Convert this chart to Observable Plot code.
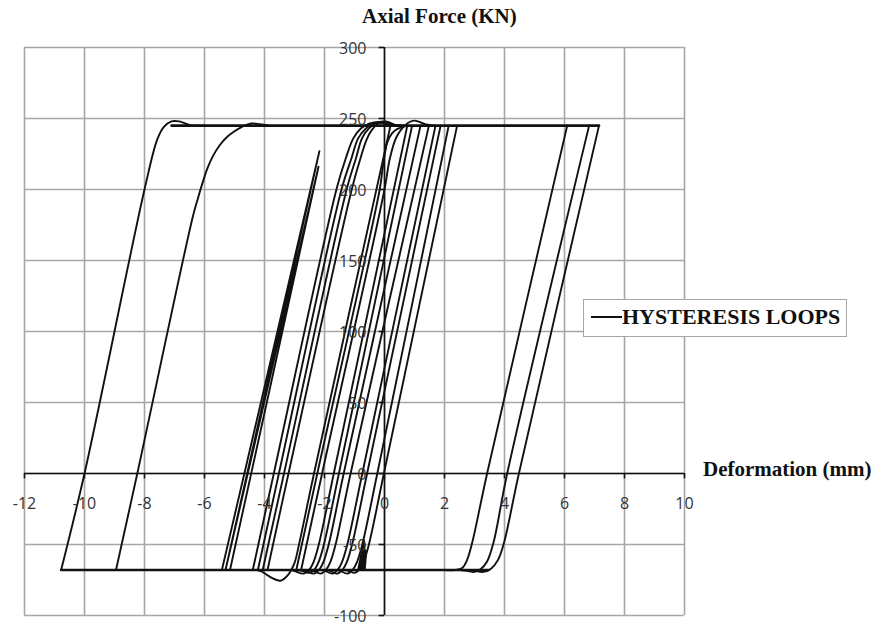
<!DOCTYPE html>
<html>
<head>
<meta charset="utf-8">
<script src="https://cdn.jsdelivr.net/npm/d3@7"></script>
<script src="https://cdn.jsdelivr.net/npm/@observablehq/plot@0.6"></script>
<style>
  html, body { margin: 0; padding: 0; background: #fff; }
  #wrap { position: relative; width: 881px; height: 626px; }
  .serif { font-family: "Liberation Serif", "Times New Roman", serif; font-weight: bold; color: #111; position: absolute; white-space: nowrap; }
  #legend { position: absolute; left: 583px; top: 299px; width: 262px; height: 36px; border: 1.5px solid #a6a6a6; background: #fff; }
  #legend .sample { position: absolute; left: 7px; top: 16px; width: 31px; height: 0; border-top: 2px solid #111; }
  #legend .lab { position: absolute; left: 38px; top: 6px; font-size: 22px; line-height: 22px; }
</style>
</head>
<body>
<div id="wrap"></div>
<script>
// ---- ticks ----
const xTicks = [-12, -10, -8, -6, -4, -2, 0, 2, 4, 6, 8, 10];
const yTicks = [-100, -50, 0, 50, 100, 150, 200, 250, 300];

// ---- plateaus (yield levels) ----
const plateauTop = [[-7.1, 245], [7.15, 245]];
const plateauBottom = [[-10.78, -68], [3.47, -68]];

// ---- outer loading branches (rounded top knee) ----
const outerUp1 = [[-10.78, -68], [-10.0, 0], [-8.0, 200], [-7.58, 235], [-7.36, 244], [-7.1, 248], [-6.85, 248], [-6.47, 245.3], [-6.0, 245]];
const outerUp2 = [[-8.95, -68], [-8.24, 0], [-6.4, 180], [-6.23, 193], [-6.06, 205], [-5.9, 215], [-5.72, 223.5], [-5.5, 231], [-5.25, 237], [-5.0, 241], [-4.72, 244.5], [-4.45, 246.5], [-4.15, 246], [-3.85, 245]];

// ---- outer unloading branches (sharp top, rounded bottom) ----
const outerDown1 = [[7.15, 245], [4.48, 0], [3.98, -49], [3.78, -61], [3.55, -67], [3.3, -69.3], [3.0, -68.5], [2.8, -68]];
const outerDown2 = [[6.82, 245], [4.09, 0], [3.63, -49], [3.42, -62], [3.2, -67.5], [3.0, -69.3], [2.75, -68.5], [2.5, -68]];
const outerDown3 = [[6.09, 245], [3.42, 0], [2.92, -49], [2.75, -61], [2.59, -66.5], [2.35, -68], [2.0, -68]];

// ---- elastic excursions (no yield) ----
const elasticBundle = [[-5.42, -68], [-2.17, 227], [-5.3, -68], [-2.2, 216], [-5.15, -68]];

// ---- inner loading branches ----
const innerUp1 = [[-4.39, -68], [-3.69, 0], [-1.59, 201], [-1.29, 222], [-1.04, 236], [-0.79, 243], [-0.49, 246.5], [-0.19, 247.5], [0.16, 245.5], [0.5, 245]];
const innerUp2 = [[-4.22, -68], [-3.52, 0], [-1.42, 201], [-1.1, 222], [-0.88, 236], [-0.62, 243], [-0.35, 246.5], [-0.1, 247], [0.2, 245.5], [0.5, 245]];
const innerUp3 = [[-4.06, -68], [-3.35, 0], [-1.25, 201], [-0.95, 222], [-0.75, 236], [-0.52, 243], [-0.3, 246.5], [-0.05, 248], [0.3, 245.5], [0.6, 245]];
const innerUp4 = [[-3.9, -68], [-3.2, 0], [-1.08, 201], [-0.8, 222], [-0.6, 235], [-0.42, 242], [-0.2, 246.5], [0.05, 248], [0.35, 245.5], [0.7, 245]];
const innerUp5 = [[-2.94, -68], [-2.24, 0], [-0.16, 200], [-0.06, 215], [0.09, 233], [0.25, 239.5], [0.42, 242.5], [0.76, 245]];
const innerUp6 = [[-2.78, -68], [-2.08, 0], [0.0, 200], [0.18, 222], [0.4, 237], [0.7, 245.5], [1.0, 248.5], [1.35, 246], [1.7, 245]];

// ---- inner unloading branches ----
const innerDown0 = [[0.2, 245], [-2.35, 0], [-2.85, -50], [-3.0, -63], [-3.2, -71], [-3.47, -75.5], [-3.8, -73], [-4.1, -69], [-4.25, -68]];
const innerDown1 = [[0.76, 245], [-1.69, 0], [-2.19, -50], [-2.36, -62], [-2.5, -67.5], [-2.7, -70.5], [-2.95, -69], [-3.1, -68]];
const innerDown2 = [[0.92, 245], [-1.52, 0], [-2.02, -50], [-2.19, -62], [-2.33, -67.5], [-2.52, -70], [-2.75, -68.5], [-2.9, -68]];
const innerDown3 = [[1.2, 245], [-1.36, 0], [-1.86, -50], [-2.03, -62], [-2.17, -67.5], [-2.36, -70.5], [-2.6, -68.5], [-2.75, -68]];
const innerDown4 = [[1.48, 245], [-1.13, 0], [-1.63, -50], [-1.8, -62], [-1.94, -67.5], [-2.13, -70.5], [-2.37, -68.5], [-2.5, -68]];
const innerDown5 = [[1.7, 245], [-0.74, 0], [-1.24, -50], [-1.41, -62], [-1.55, -67.5], [-1.74, -70.5], [-1.98, -68.5], [-2.1, -68]];
const innerDown6 = [[1.87, 245], [-0.58, 0], [-1.08, -50], [-1.25, -62], [-1.39, -67.5], [-1.58, -70.5], [-1.82, -68.5], [-1.95, -68]];
const innerDown7 = [[2.14, 245], [-0.24, 0], [-0.74, -50], [-0.91, -62], [-1.05, -67.5], [-1.24, -70.5], [-1.48, -68.5], [-1.6, -68]];
const innerDown8 = [[2.42, 245], [-0.02, 0], [-0.52, -50], [-0.69, -62], [-0.83, -67.5], [-1.0, -70], [-1.2, -68.5], [-1.35, -68]];

// ---- small initial cycles ----
const smallCycles = [[-0.88, -68], [-0.68, -47], [-0.82, -68], [-0.66, -50], [-0.76, -68], [-0.63, -54], [-0.71, -68], [-0.62, -58], [-0.66, -68]];

const smoothBranches = [outerUp1, outerUp2, outerDown1, outerDown2, outerDown3,
  innerUp1, innerUp2, innerUp3, innerUp4, innerUp5, innerUp6,
  innerDown0, innerDown1, innerDown2, innerDown3, innerDown4, innerDown5, innerDown6, innerDown7, innerDown8];
const straightBranches = [elasticBundle, smallCycles];
const plateaus = [plateauTop, plateauBottom];

const toRows = (list) => list.flatMap((pts, i) => pts.map(([x, y]) => ({id: i, x, y})));
const smoothRows = toRows(smoothBranches);
const straightRows = toRows(straightBranches);
const plateauRows = toRows(plateaus);

const grid = "#a6a6a6";
const ink = "#111";

const chart = Plot.plot({
  width: 881, height: 626,
  marginLeft: 24, marginRight: 197, marginTop: 47, marginBottom: 11,
  x: {domain: [-12, 10], axis: null},
  y: {domain: [-100, 300], axis: null},
  style: {background: "white", fontFamily: "'Open Sans', sans-serif"},
  marks: [
    Plot.ruleX(xTicks, {x: d => d, y1: -100, y2: 300, stroke: grid, strokeWidth: 1.6}),
    Plot.ruleY(yTicks, {y: d => d, x1: -12, x2: 10, stroke: grid, strokeWidth: 1.6}),
    Plot.line(plateauRows, {x: "x", y: "y", z: "id", stroke: ink, strokeWidth: 2.6}),
    Plot.line(smoothRows, {x: "x", y: "y", z: "id", stroke: ink, strokeWidth: 1.9, curve: "catmull-rom"}),
    Plot.line(straightRows, {x: "x", y: "y", z: "id", stroke: ink, strokeWidth: 1.9, strokeLinejoin: "round"}),
    Plot.ruleY([0], {x1: -12, x2: 10, stroke: ink, strokeWidth: 1.6}),
    Plot.ruleX([0], {y1: -100, y2: 300, stroke: ink, strokeWidth: 1.6}),
    Plot.ruleX(xTicks, {x: d => d, y1: 0, y2: -3.8, stroke: ink, strokeWidth: 1.6}),
    Plot.ruleY(yTicks, {y: d => d, x1: -0.18, x2: 0, stroke: ink, strokeWidth: 1.6}),
    Plot.text(xTicks, {x: d => d, y: 0, dy: 30, text: d => String(d), fontSize: 16, fill: "#333"}),
    Plot.text(yTicks, {x: 0, y: d => d, dx: -18, dy: 1, text: d => String(d), textAnchor: "end", fontSize: 16, fill: "#333"})
  ]
});

const wrap = document.getElementById("wrap");
wrap.appendChild(chart);

const title = document.createElement("div");
title.className = "serif";
title.textContent = "Axial Force (KN)";
title.style.cssText += "left:362px;top:6px;font-size:21px;line-height:21px;";
wrap.appendChild(title);

const xlab = document.createElement("div");
xlab.className = "serif";
xlab.textContent = "Deformation (mm)";
xlab.style.cssText += "left:703px;top:459px;font-size:21px;line-height:21px;";
wrap.appendChild(xlab);

const legend = document.createElement("div");
legend.id = "legend";
legend.innerHTML = '<div class="sample"></div><div class="lab serif">HYSTERESIS LOOPS</div>';
wrap.appendChild(legend);
</script>
</body>
</html>
